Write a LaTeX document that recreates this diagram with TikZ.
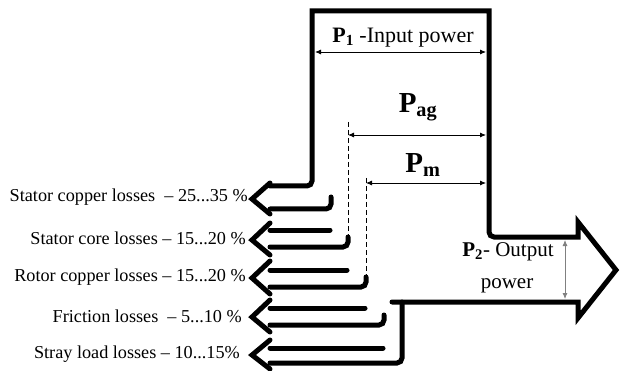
\documentclass[tikz,border=0pt]{standalone}
\usepackage{fontspec}
\setmainfont{Liberation Serif}
\usetikzlibrary{arrows.meta}
\begin{document}
\begin{tikzpicture}[x=1pt,y=-1pt,
  wall/.style={line width=5pt, line cap=round, line join=miter},
  headln/.style={line width=5pt, line cap=round, line join=miter},
  dim/.style={line width=0.8pt, {Latex[length=6pt,width=5pt]}-{Latex[length=6pt,width=5pt]}},
  dashln/.style={line width=0.8pt, dash pattern=on 5pt off 3pt},
  lbl/.style={font=\fontsize{18.2}{20}\selectfont, anchor=east, inner sep=0pt},
  plbl/.style={inner sep=0pt},
]
\useasboundingbox (0,0) rectangle (620,371);

% main band with first loss arrow and output arrow
\draw[wall] (270,186) -- (307,186) to[out=0,in=-90] (312,181) -- (312,11) -- (489,11) -- (489,232)
  to[out=-90,in=180] (494,237) -- (578,237) -- (578,222) -- (616,270) -- (578,318) -- (578,302) -- (392,302);
% loss arrow heads
\foreach \t/\bt/\bb in {199/183/214, 240/223/255, 278/261/294, 317/300/332, 355/340/369}
  \draw[headln] (270,\bt) -- (252,\t) -- (270,\bb);
% bottom shafts with stubs
\draw[wall] (270,209) -- (326,209) to[out=0,in=-90] (331,204) -- (331,197);
\draw[wall] (270,247) -- (343,247) to[out=0,in=-90] (348,242) -- (348,237);
\draw[wall] (270,287) -- (361,287) to[out=0,in=-90] (366,282) -- (366,277);
\draw[wall] (270,325) -- (379,325) to[out=0,in=-90] (384,320) -- (384,315);
\draw[wall] (270,363) -- (397,363) to[out=0,in=-90] (402,358) -- (402,302);
% top shafts
\draw[wall] (270,230) -- (330,230);
\draw[wall] (270,270) -- (347,270);
\draw[wall] (270,308) -- (365,308);
\draw[wall] (270,348) -- (383,348);

% dimension lines
\coordinate (p1l) at (315,52);  \coordinate (p1r) at (486,52);
\coordinate (pagl) at (348,135); \coordinate (pagr) at (486,135);
\coordinate (pml) at (366,183);  \coordinate (pmr) at (486,183);
\coordinate (p2t) at (565,240);  \coordinate (p2b) at (565,299);
\coordinate (dag1) at (348,122); \coordinate (dag2) at (348,237);
\coordinate (dm1) at (366,178);  \coordinate (dm2) at (366,277);
\draw[dim] (p1l) -- (p1r);
\draw[dim] (pagl) -- (pagr);
\draw[dim] (pml) -- (pmr);
\draw[dim, draw=gray] (p2t) -- (p2b);
\draw[dashln] (dag1) -- (dag2);
\draw[dashln] (dm1) -- (dm2);

% labels
\node[plbl] (lp1) at (403,38) {\fontsize{22}{24}\selectfont\textbf{P\textsubscript{1}} -Input power};
\node[plbl] (lpag) at (418,107) {\fontsize{29}{30}\selectfont\textbf{P\textsubscript{ag}}};
\node[plbl] (lpm) at (423,165) {\fontsize{29}{30}\selectfont\textbf{P\textsubscript{m}}};
\node[plbl] (lp2a) at (508,252) {\fontsize{21}{24}\selectfont\textbf{P\textsubscript{2}}- Output};
\node[plbl] (lp2b) at (507,286) {\fontsize{21}{24}\selectfont power};

\node[lbl] (l1) at (248,197) {Stator copper losses \ – 25...35 \%};
\node[lbl] (l2) at (246,238) {Stator core losses – 15...20 \%};
\node[lbl] (l3) at (246,277) {Rotor copper losses – 15...20 \%};
\node[lbl] (l4) at (242,316) {Friction losses \ – 5...10 \%};
\node[lbl] (l5) at (240,354) {Stray load losses – 10...15\%};
\end{tikzpicture}
\end{document}
